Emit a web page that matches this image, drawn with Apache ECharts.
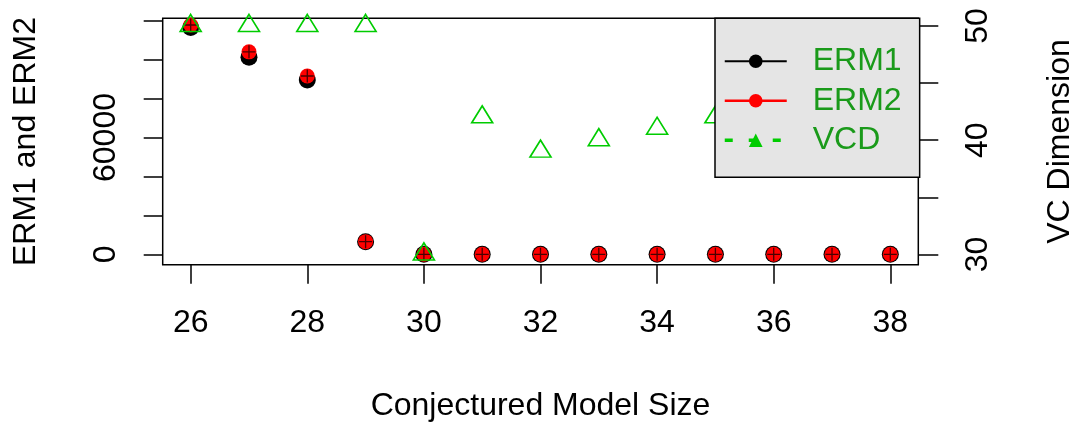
<!DOCTYPE html>
<html>
<head>
<meta charset="utf-8">
<script src="https://cdn.jsdelivr.net/npm/echarts@6/dist/echarts.min.js"></script>
<style>html,body{margin:0;padding:0;background:#fff}#c{width:1078px;height:425px}</style>
</head>
<body>
<div id="c"></div>
<script>
const xValues = [26, 27, 28, 29, 30, 31, 32, 33, 34, 35, 36, 37, 38];
const erm1 = [116500, 101200, 89500, 6400, 0, 0, 0, 0, 0, 0, 0, 0, 0];
const erm2 = [117800, 104000, 91600, 6500, 0, 0, 0, 0, 0, 0, 0, 0, 0];
const vcd = [50, 50, 50, 50, 30, 42, 39, 40, 41, 42, 43, 44, 45];
const xTicks = [26, 28, 30, 32, 34, 36, 38];
const leftTicks = [0, 20000, 40000, 60000, 80000, 100000, 120000];
const leftLabels = [0, 60000];
const rightTicks = [30, 35, 40, 45, 50];
const rightLabels = [30, 40, 50];

const FONT = '"Liberation Sans", Arial, sans-serif';
const FS = 32;
const GREEN = '#00cc00';
const pairs = (ys) => xValues.map((x, i) => [x, ys[i]]);
const crossPath = 'path://M-0.6,-6 h1.2 v5.4 h5.4 v1.2 h-5.4 v5.4 h-1.2 v-5.4 h-5.4 v-1.2 h5.4 z';
const plain = (v) => String(v);

const chart = echarts.init(document.getElementById('c'), null, {renderer: 'canvas'});
chart.setOption({
  animation: false,
  backgroundColor: '#fff',
  textStyle: {fontFamily: FONT},
  grid: {left: 162.7, right: 159.7, top: 18.3, bottom: 160.3, show: true, borderColor: '#000', borderWidth: 1.5,
         backgroundColor: 'transparent', containLabel: false, outerBoundsMode: 'none'},
  xAxis: {
    type: 'value', min: 25.52, max: 38.48,
    name: 'Conjectured Model Size', nameLocation: 'middle', nameGap: 125,
    nameTextStyle: {fontSize: FS, color: '#000', fontFamily: FONT},
    axisLine: {show: false, onZero: false},
    splitLine: {show: false},
    axisTick: {show: true, length: 19, customValues: xTicks, lineStyle: {color: '#000', width: 1.5}},
    axisLabel: {customValues: xTicks, fontSize: FS, color: '#000', margin: 42, fontFamily: FONT, formatter: plain}
  },
  yAxis: [{
    type: 'value', min: -5340, max: 121230, position: 'left',
    name: 'ERM1 and ERM2', nameLocation: 'middle', nameGap: 121, nameRotate: 90,
    nameTextStyle: {fontSize: FS, color: '#000', fontFamily: FONT},
    axisLine: {show: false, onZero: false}, splitLine: {show: false},
    axisTick: {show: true, length: 19, customValues: leftTicks, lineStyle: {color: '#000', width: 1.5}},
    axisLabel: {customValues: leftLabels, rotate: 90, fontSize: FS, color: '#000', margin: 41, fontFamily: FONT, formatter: plain}
  }, {
    type: 'value', min: 29.1, max: 50.67, position: 'right',
    name: 'VC Dimension', nameLocation: 'middle', nameGap: 126, nameRotate: 90,
    nameTextStyle: {fontSize: FS, color: '#000', fontFamily: FONT},
    axisLine: {show: false, onZero: false}, splitLine: {show: false},
    axisTick: {show: true, length: 20, customValues: rightTicks, lineStyle: {color: '#000', width: 1.5}},
    axisLabel: {customValues: rightLabels, rotate: 90, fontSize: FS, color: '#000', margin: 44, fontFamily: FONT, formatter: plain}
  }],
  legend: {
    orient: 'vertical', left: 715, top: 18.3, z: 20,
    padding: [27, 18, 21, 8], itemGap: 7.5, itemWidth: 62, itemHeight: 17,
    backgroundColor: '#e5e5e5', borderColor: '#000', borderWidth: 1.5, borderRadius: 0,
    textStyle: {fontSize: FS, color: '#1a9a1a', fontFamily: FONT, padding: [0, 0, 0, 21]},
    data: [
      {name: 'ERM1', itemStyle: {color: '#000', borderWidth: 0}, lineStyle: {color: '#000', width: 2, opacity: 1, type: 'solid'}},
      {name: 'ERM2', itemStyle: {color: '#ff0000', borderWidth: 0}, lineStyle: {color: '#ff0000', width: 2.5, opacity: 1, type: 'solid'}},
      {name: 'VCD', itemStyle: {color: GREEN, borderWidth: 0}, lineStyle: {color: GREEN, width: 3.5, opacity: 1, type: [8, 16]}}
    ]
  },
  series: [
    {name: 'ERM1', type: 'line', yAxisIndex: 0, data: pairs(erm1), symbol: 'circle', symbolSize: 17, showSymbol: true,
     itemStyle: {color: '#000'}, lineStyle: {width: 0, opacity: 0}, z: 2},
    {name: 'ERM2', type: 'line', yAxisIndex: 0, data: pairs(erm2), symbol: 'circle', symbolSize: 15, showSymbol: true,
     itemStyle: {color: '#ff0000'}, lineStyle: {width: 0, opacity: 0}, z: 3},
    {name: 'ERM2 cross', type: 'line', yAxisIndex: 0, data: pairs(erm2), symbol: crossPath, symbolSize: 13, showSymbol: true,
     itemStyle: {color: '#4a0000'}, lineStyle: {width: 0, opacity: 0}, z: 4},
    {name: 'VCD', type: 'line', yAxisIndex: 1, data: pairs(vcd), symbol: 'triangle', symbolSize: [21, 17], symbolOffset: [0, -3], showSymbol: true,
     itemStyle: {color: 'rgba(0,0,0,0)', borderColor: GREEN, borderWidth: 1.6}, lineStyle: {width: 0, opacity: 0}, z: 5}
  ]
});
</script>
</body>
</html>
